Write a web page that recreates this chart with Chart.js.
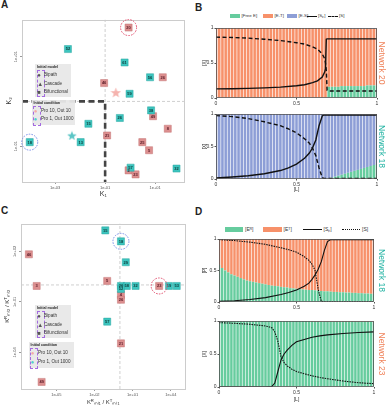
<!DOCTYPE html>
<html><head><meta charset="utf-8">
<script src="https://cdn.jsdelivr.net/npm/chart.js@4.4.0/dist/chart.umd.min.js"></script>
<style>
html,body{margin:0;padding:0;background:#fff;}
#root{position:relative;width:389px;height:409px;overflow:hidden;font-family:"Liberation Sans",Arial,sans-serif;color:#222;}
canvas{position:absolute;}
.lt{position:absolute;font-weight:bold;font-size:10px;line-height:10px;}
.lg{position:absolute;background:rgba(232,232,232,0.95);}
.lg span,.lg div{position:absolute;white-space:nowrap;line-height:1;}
.lgt{font-size:3.6px;font-weight:bold;}
.lgi{font-size:4.6px;color:#333;}
.sym{font-size:6px;color:#555;}
.pb{border:0.8px dashed #a46be0;}
.leg{position:absolute;white-space:nowrap;line-height:1;color:#333;}
.sw{position:absolute;}
</style></head><body><div id="root">
<div class="lt" style="left:1px;top:0px">A</div>
<div class="lt" style="left:195px;top:3px">B</div>
<div class="lt" style="left:1px;top:206px">C</div>
<div class="lt" style="left:195px;top:207px">D</div>

<canvas id="cA" width="190" height="186" style="left:0;top:14px"></canvas>
<canvas id="cB1" width="189" height="84" style="left:200px;top:24px"></canvas>
<canvas id="cB2" width="189" height="84" style="left:200px;top:110px"></canvas>
<canvas id="cC" width="191" height="190" style="left:0;top:218px"></canvas>
<canvas id="cD1" width="189" height="78" style="left:200px;top:234px"></canvas>
<canvas id="cD2" width="189" height="88" style="left:200px;top:316px"></canvas>

<!-- legend panel A -->
<div class="lg" style="left:35px;top:64px;width:36px;height:33px">
  <div class="lgt" style="left:2px;top:1.5px">Initial model</div>
  <div class="pb" style="left:1.5px;top:6px;width:6px;height:25px"></div>
  <span class="sym" style="left:2.2px;top:8px">●</span><span class="lgi" style="left:9px;top:9px">Bipath</span>
  <span class="sym" style="left:2.2px;top:16.5px">▲</span><span class="lgi" style="left:9px;top:18px">Cascade</span>
  <span class="sym" style="left:2.2px;top:25px">■</span><span class="lgi" style="left:9px;top:26px">Bifunctional</span>
</div>
<div class="lg" style="left:32px;top:100px;width:43px;height:25px">
  <div class="lgt" style="left:1.5px;top:1.5px">Initial condition</div>
  <div class="pb" style="left:1px;top:5.5px;width:6px;height:18px"></div>
  <span class="sym" style="left:1.8px;top:7.5px;color:#f4aaa6">●</span><span class="lgi" style="left:9px;top:8.5px">Pro 10, Out 10</span>
  <span class="sym" style="left:1.8px;top:16px;color:#4fd0cc">●</span><span class="lgi" style="left:9px;top:17px">Pro 1, Out 1000</span>
</div>
<!-- legend panel C -->
<div class="lg" style="left:35px;top:305px;width:36px;height:33px">
  <div class="lgt" style="left:2px;top:1.5px">Initial model</div>
  <div class="pb" style="left:1.5px;top:6px;width:6px;height:25px"></div>
  <span class="sym" style="left:2.2px;top:8px">●</span><span class="lgi" style="left:9px;top:9px">Bipath</span>
  <span class="sym" style="left:2.2px;top:16.5px">▲</span><span class="lgi" style="left:9px;top:18px">Cascade</span>
  <span class="sym" style="left:2.2px;top:25px">■</span><span class="lgi" style="left:9px;top:26px">Bifunctional</span>
</div>
<div class="lg" style="left:29px;top:342px;width:45px;height:26px">
  <div class="lgt" style="left:1.5px;top:1.5px">Initial condition</div>
  <div class="pb" style="left:1px;top:5.5px;width:6px;height:19px"></div>
  <span class="sym" style="left:1.8px;top:8px;color:#f4aaa6">●</span><span class="lgi" style="left:9px;top:9px">Pro 10, Out 10</span>
  <span class="sym" style="left:1.8px;top:16.5px;color:#4fd0cc">●</span><span class="lgi" style="left:9px;top:17.5px">Pro 1, Out 1000</span>
</div>

<!-- legend B -->
<div class="sw" style="left:230px;top:14px;width:10px;height:4px;background:#66cc9e"></div><div class="leg" style="left:241.5px;top:14px;font-size:4.4px">[Free E]</div>
<div class="sw" style="left:263px;top:14px;width:10px;height:4px;background:#f7916a"></div><div class="leg" style="left:274.5px;top:14px;font-size:4.4px">[E-T]</div>
<div class="sw" style="left:287px;top:14px;width:10px;height:4px;background:#8d9ed6"></div><div class="leg" style="left:298.5px;top:14px;font-size:4.4px">[E-S]</div>
<div class="sw" style="left:307px;top:15.5px;width:10px;height:0;border-top:1.3px solid #111"></div><div class="leg" style="left:318px;top:14px;font-size:4.4px">[Sₚ]</div>
<div class="sw" style="left:328px;top:15.5px;width:10px;height:0;border-top:1.3px dashed #111"></div><div class="leg" style="left:339px;top:14px;font-size:4.4px">[S]</div>
<!-- legend D -->
<div class="sw" style="left:225px;top:226.5px;width:18px;height:5px;background:#66cc9e"></div><div class="leg" style="left:245px;top:226.5px;font-size:5px">[Eᴿ]</div>
<div class="sw" style="left:263px;top:226.5px;width:19px;height:5px;background:#f7916a"></div><div class="leg" style="left:283.5px;top:226.5px;font-size:5px">[Eᵀ]</div>
<div class="sw" style="left:303px;top:228.5px;width:19px;height:0;border-top:1px solid #111"></div><div class="leg" style="left:323.5px;top:226.5px;font-size:5px">[Sₚ]</div>
<div class="sw" style="left:342px;top:228.5px;width:18px;height:0;border-top:1px dotted #111"></div><div class="leg" style="left:362px;top:226.5px;font-size:5px">[S]</div>
</div>
<script>
// ---------------- Panel A data (log10 values) ----------------
const aLabels = ['20','52','61','56','26','46','59','38','26','49','15','8','21','13','18','25','5','57','2','23','32'];
const aCond   = ['P','T','T','T','P','P','T','T','T','P','T','P','P','T','T','P','P','T','P','P','T'];
const aLogK1  = [-0.06,-2.49,-0.22,0.80,1.31,-1.04,-0.02,0.84,-0.41,0.92,-1.67,1.51,-0.92,-1.98,-4.02,0.49,0.76,0.02,-0.06,0.22,1.86];
const aLogK2  = [1.65,1.17,0.87,0.54,0.54,0.41,0.17,-0.20,-0.37,-0.33,-0.50,-0.61,-0.76,-0.91,-0.91,-0.91,-1.09,-1.48,-1.54,-1.63,-1.50];
const aStarCond = ['P','T'];
const aStarK1 = [-0.57,-2.33];
const aStarK2 = [0.20,-0.76];
const aRings = {'20':'#e0506e','18':'#7b8fe8'};
const aXTicks = [-3,-1,1];
const aYTicks = [-1,1];
const aThreshK1 = -1, aThreshK2 = 0;

// ---------------- Panel C data (log10 ratios) ----------------
const cLabels = ['15','18','46','29','5','3','26','58','32','23','19','53','52','4','26','57','21','49'];
const cCond   = ['T','T','P','T','P','P','T','T','T','P','T','T','T','P','P','T','P','P'];
const cLogR1  = [-1.15,0.08,-7.15,0.46,-1.0,-6.54,0.08,0.54,1.23,3.08,3.85,4.46,0.08,0.08,0.08,-1.0,0.08,-6.15];
const cLogR2  = [3.24,2.59,1.82,1.35,0.24,-0.06,-0.06,-0.06,-0.06,-0.06,-0.06,-0.06,-0.24,-0.59,-0.88,-2.18,-3.47,-5.76];
const cRings = {'18':'#7b8fe8','23':'#e0506e'};
const cXTicks = [-5,-2,1,4];
const cYTicks = [-4,-1,2];
const cThreshR1 = 0, cThreshR2 = 0;

// ---------------- Panels B / D: ligand levels ----------------
const L = [0,0.02,0.04,0.06,0.08,0.1,0.12,0.14,0.16,0.18,
           0.2,0.22,0.24,0.26,0.28,0.3,0.32,0.34,0.36,0.38,
           0.4,0.42,0.44,0.46,0.48,0.5,0.52,0.54,0.56,0.58,
           0.6,0.62,0.64,0.66,0.68,0.7,0.72,0.74,0.76,0.78,
           0.8,0.82,0.84,0.86,0.88,0.9,0.92,0.94,0.96,0.98,1];
const axisTicks01 = [0,0.5,1];

// B top: Network 20
const n20FreeE = [0,0,0,0,0,0,0,0,0,0, 0,0,0,0,0,0,0,0,0,0, 0,0,0,0,0,0,0,0,0,0, 0,0,0,0,0,
                  0.16,0.16,0.16,0.16,0.17, 0.17,0.17,0.17,0.17,0.17, 0.17,0.17,0.18,0.18,0.18,0.18];
const n20ET    = [1,1,1,1,1,1,1,1,1,1, 1,1,1,1,1,1,1,1,1,1, 1,1,1,1,1,1,1,1,1,1, 1,1,1,1,1,
                  0.83,0.83,0.83,0.83,0.82, 0.82,0.82,0.82,0.82,0.82, 0.82,0.82,0.81,0.81,0.81,0.81];
const n20ES    = [0,0,0,0,0,0,0,0,0,0, 0,0,0,0,0,0,0,0,0,0, 0,0,0,0,0,0,0,0,0,0, 0,0,0,0,0,
                  0.01,0.01,0.01,0.01,0.01, 0.01,0.01,0.01,0.01,0.01, 0.01,0.01,0.01,0.01,0.01,0.01];
const n20LineL = [0,0.1,0.2,0.3,0.4,0.5,0.55,0.6,0.63,0.66,0.675,0.68,0.685,0.69,0.7,0.8,0.9,1];
const n20Sp    = [0.13,0.132,0.138,0.145,0.155,0.175,0.19,0.22,0.245,0.30,0.37,0.42,0.84,0.845,0.845,0.845,0.845,0.845];
const n20S     = [0.87,0.865,0.855,0.84,0.82,0.79,0.77,0.73,0.70,0.63,0.56,0.50,0.40,0.11,0.10,0.10,0.10,0.10];

// B bottom: Network 18
const n18FreeE = [0,0,0,0,0,0,0,0,0,0, 0,0,0,0,0,0,0,0,0,0, 0,0,0,0,0,0,0,0,0,0, 0,0,0,0,0,
                  0.01,0.02,0.035,0.05,0.065, 0.08,0.095,0.11,0.125,0.14, 0.155,0.17,0.185,0.20,0.215,0.23];
const n18ES    = [1,1,1,1,1,1,1,1,1,1, 1,1,1,1,1,1,1,1,1,1, 1,1,1,1,1,1,1,1,1,1, 1,1,1,1,1,
                  0.99,0.98,0.965,0.95,0.935, 0.92,0.905,0.89,0.875,0.86, 0.845,0.83,0.815,0.80,0.785,0.77];
const n18LineL = [0,0.1,0.2,0.3,0.4,0.45,0.5,0.55,0.58,0.6,0.62,0.64,0.66,0.67,0.7,0.8,0.9,1];
const n18Sp    = [0.015,0.03,0.05,0.08,0.13,0.17,0.23,0.32,0.40,0.48,0.60,0.82,0.97,0.985,0.985,0.985,0.985,0.985];
const n18S     = [0.975,0.96,0.93,0.88,0.82,0.77,0.71,0.62,0.55,0.47,0.36,0.17,0.02,0.01,0.01,0.01,0.01,0.01];

// D top: Network 18
const d18ER = [0.59,0.54,0.50,0.47,0.44,0.42,0.40,0.38,0.36,0.34,
               0.33,0.32,0.31,0.30,0.29,0.28,0.27,0.26,0.255,0.25,
               0.24,0.235,0.23,0.22,0.215,0.21,0.205,0.20,0.195,0.19,
               0.19,0.185,0.18,0.175,0.17,0.17,0.165,0.16,0.16,0.155,
               0.155,0.15,0.15,0.145,0.145,0.14,0.14,0.135,0.135,0.13,0.13];
const d18ET = [0.41,0.46,0.50,0.53,0.56,0.58,0.60,0.62,0.64,0.66,
               0.67,0.68,0.69,0.70,0.71,0.72,0.73,0.74,0.745,0.75,
               0.76,0.765,0.77,0.78,0.785,0.79,0.795,0.80,0.805,0.81,
               0.81,0.815,0.82,0.825,0.83,0.83,0.835,0.84,0.84,0.845,
               0.845,0.85,0.85,0.855,0.855,0.86,0.86,0.865,0.865,0.87,0.87];
const d18LineL = [0,0.1,0.2,0.3,0.4,0.45,0.5,0.55,0.58,0.6,0.62,0.64,0.66,0.68,0.7,0.72,0.8,0.9,1];
const d18Sp    = [0.01,0.02,0.04,0.07,0.12,0.15,0.19,0.25,0.30,0.36,0.43,0.52,0.64,0.82,0.96,0.99,0.99,0.99,0.99];
const d18S     = [0.99,0.975,0.95,0.915,0.86,0.83,0.79,0.72,0.66,0.60,0.50,0.20,0.01,0.005,0.005,0.005,0.005,0.005,0.005];

// D bottom: Network 23
const d23ER = [1,1,1,1,1,1,1,1,1,1, 1,1,1,1,1,1,1,1,1,1, 1,1,1,1,1,1,1,1,1,1,
               0.99,0.99,0.99,0.99,0.99,0.99,0.99,0.99,0.99,0.99,
               0.99,0.99,0.99,0.99,0.99,0.99,0.99,0.99,0.99,0.99,0.99];
const d23ET = [0,0,0,0,0,0,0,0,0,0, 0,0,0,0,0,0,0,0,0,0, 0,0,0,0,0,0,0,0,0,0,
               0.01,0.01,0.01,0.01,0.01,0.01,0.01,0.01,0.01,0.01,
               0.01,0.01,0.01,0.01,0.01,0.01,0.01,0.01,0.01,0.01,0.01];
const d23LineL = [0,0.1,0.2,0.3,0.34,0.36,0.38,0.40,0.42,0.44,0.47,0.5,0.55,0.6,0.65,0.7,0.8,0.9,1];
const d23S     = [0.975,0.965,0.95,0.925,0.90,0.835,0.69,0.46,0.37,0.32,0.27,0.235,0.20,0.17,0.145,0.125,0.09,0.065,0.05];
const d23Sp    = [0,0,0,0,0.005,0.06,0.235,0.41,0.50,0.56,0.63,0.685,0.72,0.755,0.775,0.79,0.81,0.825,0.835];

// ---------------- styling ----------------
const TEAL_BAR = '#66cc9e', ORANGE_BAR = '#f7916a', BLUE_BAR = '#8d9ed6';
const PINK_PT = '#dc8f8f', TEAL_PT = '#3cc4be';
const FONT = '"Liberation Sans", Arial, sans-serif';
Chart.defaults.font.family = FONT;
Chart.defaults.color = '#333';

const framePlugin = {
  id: 'frame',
  afterDatasetsDraw(chart, args, o) {
    if (!o || !o.color) return;
    const a = chart.chartArea, ctx = chart.ctx;
    ctx.save(); ctx.strokeStyle = o.color; ctx.lineWidth = o.width || 1;
    ctx.strokeRect(Math.round(a.left) + 0.5, Math.round(a.top) + 0.5, Math.round(a.width) - 1, Math.round(a.height) - 1);
    ctx.restore();
  }
};
const ptLabelPlugin = {
  id: 'ptLabels',
  afterDatasetsDraw(chart) {
    const ctx = chart.ctx;
    chart.data.datasets.forEach((ds, i) => {
      if (!ds.ptLabels) return;
      const meta = chart.getDatasetMeta(i);
      meta.data.forEach((el, j) => {
        ctx.save();
        ctx.font = 'bold 4px ' + FONT; ctx.fillStyle = ds.ptText;
        ctx.textAlign = 'center'; ctx.textBaseline = 'middle';
        ctx.fillText(ds.ptLabels[j], el.x, el.y + 0.3);
        const ring = ds.rings && ds.rings[ds.ptLabels[j]];
        if (ring) {
          ctx.setLineDash([1.6, 1.2]); ctx.strokeStyle = ring; ctx.lineWidth = 1;
          ctx.beginPath(); ctx.arc(el.x, el.y, 8, 0, Math.PI * 2); ctx.stroke();
        }
        ctx.restore();
      });
    });
  }
};

function starImage(color, size) {
  const c = document.createElement('canvas'); c.width = size; c.height = size;
  const g = c.getContext('2d'); const cx = size / 2, cy = size / 2 + 0.5, R = size / 2, r = R * 0.42;
  g.beginPath();
  for (let k = 0; k < 10; k++) {
    const ang = -Math.PI / 2 + k * Math.PI / 5, rad = k % 2 ? r : R;
    g.lineTo(cx + rad * Math.cos(ang), cy + rad * Math.sin(ang));
  }
  g.closePath(); g.fillStyle = color; g.fill();
  return c;
}
const fmtE = v => '1e' + (v < 0 ? '-' : '+') + String(Math.abs(v)).padStart(2, '0');

function scatterPanel(id, o) {
  const pick = (c) => o.cond.map((k, i) => k === c ? i : -1).filter(i => i >= 0);
  const mk = (c, color, text, brd) => {
    const idx = pick(c);
    return { type: 'scatter', data: idx.map(i => ({ x: o.xs[i], y: o.ys[i] })), ptLabels: idx.map(i => o.labels[i]),
      ptText: text, rings: o.rings, pointStyle: 'rect', pointRadius: 5, backgroundColor: color, borderColor: brd, borderWidth: 0.5, order: 1 };
  };
  const ds = [
    mk('T', TEAL_PT, '#0e3a38', '#2aa8a2'),
    mk('P', PINK_PT, '#5a1c28', '#c47474')
  ];
  if (o.stars) {
    o.stars.cond.forEach((c, i) => ds.push({ type: 'scatter', data: [{ x: o.stars.xs[i], y: o.stars.ys[i] }],
      pointStyle: starImage(c === 'P' ? '#f5b3ae' : '#5cc6c6', c === 'P' ? 11 : 10), order: 2 }));
  }
  ds.push({ type: 'line', data: [{ x: o.tx, y: o.ymin }, { x: o.tx, y: o.ymax }], borderColor: '#cfcfcf', borderWidth: 1, borderDash: [3, 2], pointRadius: 0, order: 5 });
  ds.push({ type: 'line', data: [{ x: o.xmin, y: o.ty }, { x: o.xmax, y: o.ty }], borderColor: '#cfcfcf', borderWidth: 1, borderDash: [3, 2], pointRadius: 0, order: 5 });
  if (o.thick) ds.push({ type: 'line', data: [{ x: o.xmin, y: o.ty }, { x: o.tx, y: o.ty }, { x: o.tx, y: o.ymin }], borderColor: '#444', borderWidth: 2.6, borderDash: [6, 3.5], pointRadius: 0, order: 4 });
  new Chart(document.getElementById(id), {
    type: 'scatter', data: { datasets: ds }, plugins: [framePlugin, ptLabelPlugin],
    options: {
      animation: false, responsive: false, devicePixelRatio: 1,
      layout: { padding: o.pad },
      plugins: { legend: { display: false }, tooltip: { enabled: false }, frame: { color: '#cccccc', width: 1 } },
      scales: {
        x: { type: 'linear', min: o.xmin, max: o.xmax,
          afterBuildTicks: s => { s.ticks = o.xt.map(v => ({ value: v })); },
          ticks: { font: { size: 4 }, color: '#555', padding: 1, callback: fmtE, autoSkip: false, maxRotation: 0 },
          grid: { drawOnChartArea: false, tickLength: 2, color: '#999' }, border: { display: false },
          title: { display: true, text: o.xTitle, font: { size: o.tSize }, color: '#333', padding: { top: 0, bottom: o.xtPad } },
          afterFit: s => { s.height = o.xh; } },
        y: { type: 'linear', min: o.ymin, max: o.ymax,
          afterBuildTicks: s => { s.ticks = o.yt.map(v => ({ value: v })); },
          ticks: { font: { size: 4 }, color: '#555', padding: -2, callback: fmtE, autoSkip: false, minRotation: 90, maxRotation: 90, crossAlign: 'center' },
          grid: { drawOnChartArea: false, tickLength: 2, color: '#999' }, border: { display: false },
          title: { display: true, text: o.yTitle, font: { size: o.tSize }, color: '#333', padding: { top: o.ytPad, bottom: 0 } },
          afterFit: s => { s.width = o.yw; } }
      }
    }
  });
}

function linePanel(id, o) {
  const ds = [];
  o.lines.forEach(ln => ds.push({ type: 'line', data: ln.x.map((v, i) => ({ x: v, y: ln.y[i] })), yAxisID: 'y2',
    borderColor: '#111', borderWidth: ln.w, borderDash: ln.dash, pointRadius: 0, tension: 0, fill: false, order: 0 }));
  o.bars.forEach(b => ds.push({ type: 'bar', data: L.map((v, i) => ({ x: v, y: b.v[i] })), backgroundColor: b.c,
    borderWidth: 0, order: 1, categoryPercentage: 0.8, barPercentage: 1 }));
  new Chart(document.getElementById(id), {
    type: 'bar', data: { datasets: ds }, plugins: [framePlugin],
    options: {
      animation: false, responsive: false, devicePixelRatio: 1,
      layout: { padding: { top: o.pt, left: 0, right: 0, bottom: 0 } },
      plugins: { legend: { display: false }, tooltip: { enabled: false }, frame: { color: '#555', width: 0.8 } },
      scales: {
        x: { type: 'linear', min: 0, max: 1, offset: false, stacked: true,
          afterBuildTicks: s => { s.ticks = axisTicks01.map(v => ({ value: v })); },
          ticks: { font: { size: 5 }, color: '#333', padding: 1, maxRotation: 0, autoSkip: false, callback: v => String(v) },
          grid: { display: true, drawOnChartArea: false, tickLength: 1.5, color: '#555', offset: false }, border: { display: false },
          title: { display: !!o.xTitle, text: o.xTitle, font: { size: 5 }, color: '#333', padding: { top: 0, bottom: 1 } },
          afterFit: s => { s.height = o.xh; } },
        y: { stacked: true, min: 0, max: 1,
          afterBuildTicks: s => { s.ticks = axisTicks01.map(v => ({ value: v })); },
          ticks: { font: { size: 5 }, color: '#333', padding: 1, autoSkip: false, callback: v => String(v) },
          grid: { display: true, drawOnChartArea: false, tickLength: 1.5, color: '#555' }, border: { display: false },
          title: { display: true, text: o.yTitle, font: { size: 4.5 }, color: '#333', padding: { top: 2, bottom: 0 } },
          afterFit: s => { s.width = o.yw; } },
        y2: { display: false, min: 0, max: 1 },
        yR: { position: 'right', min: 0, max: 1, ticks: { display: false }, grid: { display: false }, border: { display: false },
          title: { display: true, text: o.net, color: o.netColor, font: { size: 8.5 }, padding: { top: 2.5, bottom: 0 } },
          afterFit: s => { s.width = o.rw; } }
      }
    }
  });
}

// Panel A
scatterPanel('cA', { xs: aLogK1, ys: aLogK2, labels: aLabels, cond: aCond, rings: aRings,
  stars: { cond: aStarCond, xs: aStarK1, ys: aStarK2 },
  xmin: -4.33, xmax: 2.18, ymin: -1.8, ymax: 1.83, tx: aThreshK1, ty: aThreshK2, thick: true,
  xt: aXTicks, yt: aYTicks, xTitle: 'K₁', yTitle: 'K₂', tSize: 7, xh: 18, yw: 22, xtPad: 2, ytPad: 5,
  pad: { top: 1, right: 2, left: 0, bottom: 0 } });

// Panel C
scatterPanel('cC', { xs: cLogR1, ys: cLogR2, labels: cLabels, cond: cCond, rings: cRings,
  xmin: -7.77, xmax: 5.15, ymin: -6.18, ymax: 3.65, tx: cThreshR1, ty: cThreshR2, thick: false,
  xt: cXTicks, yt: cYTicks, xTitle: 'Kᴿₘₗ₁ / Kᵀₘₗ₁', yTitle: 'Kᴿₘₗ₂ / Kᵀₘₗ₂', tSize: 6, xh: 19, yw: 21, xtPad: 2, ytPad: 4,
  pad: { top: 4, right: 2, left: 0, bottom: 0 } });

// Panel B
linePanel('cB1', { pt: 3, xh: 10, yw: 16, rw: 12, yTitle: '[X]', xTitle: '', net: 'Network 20', netColor: '#f0845c',
  bars: [{ v: n20FreeE, c: TEAL_BAR }, { v: n20ET, c: ORANGE_BAR }, { v: n20ES, c: BLUE_BAR }],
  lines: [{ x: n20LineL, y: n20Sp, w: 1.4, dash: [] }, { x: n20LineL, y: n20S, w: 1.4, dash: [4, 2.5] }] });
linePanel('cB2', { pt: 4, xh: 15, yw: 16, rw: 12, yTitle: '[X]', xTitle: '[L]', net: 'Network 18', netColor: '#22b3a3',
  bars: [{ v: n18FreeE, c: TEAL_BAR }, { v: n18ES, c: BLUE_BAR }],
  lines: [{ x: n18LineL, y: n18Sp, w: 1.4, dash: [] }, { x: n18LineL, y: n18S, w: 1.4, dash: [4, 2.5] }] });

// Panel D
linePanel('cD1', { pt: 5, xh: 10, yw: 19, rw: 15, yTitle: '[P]', xTitle: '', net: 'Network 18', netColor: '#22b3a3',
  bars: [{ v: d18ER, c: TEAL_BAR }, { v: d18ET, c: ORANGE_BAR }],
  lines: [{ x: d18LineL, y: d18Sp, w: 1.1, dash: [] }, { x: d18LineL, y: d18S, w: 1.1, dash: [1.5, 1] }] });
linePanel('cD2', { pt: 5, xh: 17, yw: 19, rw: 15, yTitle: '[X]', xTitle: '[L]', net: 'Network 23', netColor: '#f0845c',
  bars: [{ v: d23ER, c: TEAL_BAR }, { v: d23ET, c: ORANGE_BAR }],
  lines: [{ x: d23LineL, y: d23Sp, w: 1.1, dash: [] }, { x: d23LineL, y: d23S, w: 1.1, dash: [1.5, 1] }] });
</script>
</body></html>
